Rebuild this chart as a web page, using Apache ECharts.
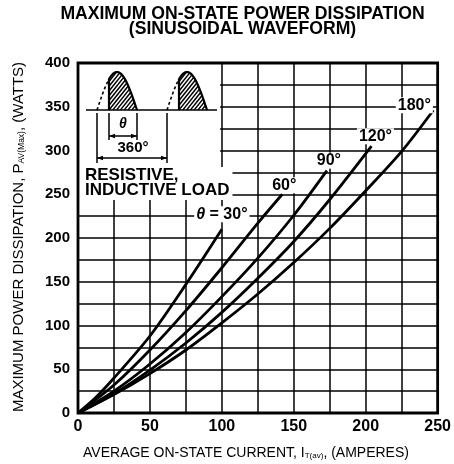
<!DOCTYPE html>
<html><head><meta charset="utf-8">
<script src="https://cdn.jsdelivr.net/npm/echarts/dist/echarts.min.js"></script>
<style>html,body{margin:0;padding:0;background:#fff}#c{width:454px;height:464px}</style>
</head><body><div id="c"></div>
<script>
// ---- data ----
const xTickValues = [0, 50, 100, 150, 200, 250];
const yTickValues = [0, 50, 100, 150, 200, 250, 300, 350, 400];
const curveNames = ['30°', '60°', '90°', '120°', '180°'];
const curve30  = [[0,0],[12.5,18],[25,40],[50,88],[75,147],[100,210]];
const curve60  = [[0,0],[25,32],[50,72],[75,117],[100,166],[125,217],[142,250]];
const curve90  = [[0,0],[25,25],[50,56],[75,92],[100,133],[125,177],[150,226],[173,277]];
const curve120 = [[0,0],[25,22],[50,49],[75,80],[100,115],[125,154],[150,196],[175,244],[204,305]];
const curve180 = [[0,0],[25,21],[50,45],[75,72],[100,103],[125,136],[150,172],[175,211],[200,254],[225,299],[247,346]];
const titleLines = ['MAXIMUM ON-STATE POWER DISSIPATION', '(SINUSOIDAL WAVEFORM)'];
const loadText = ['RESISTIVE,', 'INDUCTIVE LOAD'];

// ---- chart ----
const FF = '"Liberation Sans", Arial, Helvetica, sans-serif';
const chart = echarts.init(document.getElementById('c'), null, {renderer: 'canvas', width: 454, height: 464});
const curves = [curve30, curve60, curve90, curve120, curve180];
const labelShift = [[0,-15],[2,-9],[2,-10],[4,-10],[-19,-5]];

const series = curves.map((pts, i) => ({
  type: 'line', data: pts, smooth: 0.3, showSymbol: false, symbol: 'none', silent: true,
  animation: false, z: 3,
  lineStyle: {color: '#000', width: 2.8},
  markPoint: {
    symbol: 'circle', symbolSize: 0.1, silent: true, animation: false,
    itemStyle: {color: 'rgba(0,0,0,0)'},
    data: [{coord: pts[pts.length - 1]}],
    label: {
      show: true, position: 'inside', offset: labelShift[i],
      formatter: () => i === 0 ? '{i|θ} = ' + curveNames[i] : curveNames[i],
      color: '#000', fontFamily: FF, fontWeight: 'bold', fontSize: 16,
      backgroundColor: '#fff', padding: [0, 2],
      rich: {i: {fontStyle: 'italic', fontWeight: 'bold', fontSize: 16, fontFamily: FF, color: '#000'}}
    }
  }
}));

const axisCommon = {
  splitLine: {show: true, lineStyle: {color: '#000', width: 1.5}},
  axisLine: {show: false}, axisTick: {show: false}
};

chart.setOption({
  animation: false,
  backgroundColor: '#fff',
  grid: {left: 78, top: 63, right: 16, bottom: 51, show: false},
  xAxis: Object.assign({
    type: 'value', min: 0, max: 250, interval: 25,
    axisLabel: {formatter: v => xTickValues.includes(v) ? String(v) : '', color: '#000',
      fontFamily: FF, fontWeight: 'bold', fontSize: 16, margin: 6, showMaxLabel: true}
  }, axisCommon),
  yAxis: Object.assign({
    type: 'value', min: 0, max: 400, interval: 25,
    axisLabel: {formatter: v => yTickValues.includes(v) ? String(v) : '', color: '#000',
      fontFamily: FF, fontWeight: 'bold', fontSize: 15, margin: 8}
  }, axisCommon),
  series: series
});

// ---- overlays: mask, frame, texts, inset ----
const px = (x, y) => chart.convertToPixel({gridIndex: 0}, [x, y]);
const g = [];
const topLeft = px(0, 400), botRight = px(250, 0);
const maskBR = px(98.8, 245);
g.push({type: 'rect', z: 10, shape: {x: topLeft[0] + 1, y: topLeft[1] + 1, width: maskBR[0] - topLeft[0] - 1, height: maskBR[1] - topLeft[1] - 1},
  style: {fill: '#fff', stroke: null}});
g.push({type: 'rect', z: 60, shape: {x: topLeft[0], y: topLeft[1], width: botRight[0] - topLeft[0], height: botRight[1] - topLeft[1]},
  style: {fill: null, stroke: '#000', lineWidth: 2.8}});

// title
g.push({type: 'text', z: 60, style: {text: titleLines.join('\n'), x: 242.5, y: 7, align: 'center', verticalAlign: 'top',
  font: 'bold 17.6px ' + FF, fill: '#000', lineHeight: 15}});

// axis names
g.push({type: 'text', z: 60, style: {
  text: 'AVERAGE ON-STATE CURRENT, I{s|T(av)}, (AMPERES)', x: 246, y: 453, align: 'center', verticalAlign: 'middle',
  font: '14px ' + FF, fill: '#000',
  rich: {s: {fontSize: 8, fontFamily: FF, fill: '#000', padding: [6, 0, 0, 0]}}}});
g.push({type: 'text', z: 60, rotation: Math.PI / 2, x: 19, y: 237, style: {
  text: 'MAXIMUM POWER DISSIPATION, P{s|AV(Max)}, (WATTS)', x: 0, y: 0, align: 'center', verticalAlign: 'middle',
  font: '15px ' + FF, fill: '#000',
  rich: {s: {fontSize: 8.5, fontFamily: FF, fill: '#000', padding: [6, 0, 0, 0]}}}});

// load text
g.push({type: 'text', z: 30, style: {text: loadText.join('\n'), x: 85, y: 167, align: 'left', verticalAlign: 'top',
  font: 'bold 17px ' + FF, fill: '#000', lineHeight: 15, backgroundColor: '#fff', padding: [1, 3, 2, 0]}});

// inset waveform
const BASE = 110, W = 40, H = 38, CUT = 12, S = 1.25;
const humpY = (x, x0) => BASE - H * Math.sin(Math.PI * (x - x0) / W);
const starts = [97, 167];
g.push({type: 'line', z: 20, shape: {x1: 86, y1: BASE, x2: 217, y2: BASE}, style: {stroke: '#000', lineWidth: 1.7}});
starts.forEach(x0 => {
  const xc = x0 + CUT, xe = x0 + W;
  const dash = [];
  for (let x = x0; x <= xc + 0.01; x += 0.5) dash.push([x, humpY(x, x0)]);
  g.push({type: 'polyline', z: 20, shape: {points: dash}, style: {stroke: '#000', lineWidth: 1.6, lineDash: [3, 2.5], fill: null}});
  const solid = [[xc, BASE]];
  for (let x = xc; x <= xe + 0.01; x += 0.5) solid.push([x, humpY(x, x0)]);
  g.push({type: 'polyline', z: 20, shape: {points: solid}, style: {stroke: '#000', lineWidth: 2.2, fill: null}});
  for (let k = xc - H / S; k < xe; k += 3.8) {
    let first = null, last = null;
    for (let x = xc; x <= xe; x += 0.1) {
      const y = BASE - S * (x - k);
      if (y <= BASE && y >= humpY(x, x0)) { if (!first) first = [x, y]; last = [x, y]; }
    }
    if (first && last && last[0] - first[0] > 0.8)
      g.push({type: 'line', z: 20, shape: {x1: first[0], y1: first[1], x2: last[0], y2: last[1]}, style: {stroke: '#000', lineWidth: 1.5}});
  }
});
function dim(xa, xb, yLine, yExtEnd, label, lx, ly, font) {
  g.push({type: 'line', z: 20, shape: {x1: xa, y1: BASE + 3, x2: xa, y2: yExtEnd}, style: {stroke: '#000', lineWidth: 1.5}});
  g.push({type: 'line', z: 20, shape: {x1: xb, y1: BASE + 3, x2: xb, y2: yExtEnd}, style: {stroke: '#000', lineWidth: 1.5}});
  g.push({type: 'line', z: 20, shape: {x1: xa, y1: yLine, x2: xb, y2: yLine}, style: {stroke: '#000', lineWidth: 1.5}});
  g.push({type: 'polygon', z: 20, shape: {points: [[xa, yLine], [xa + 6, yLine - 2.2], [xa + 6, yLine + 2.2]]}, style: {fill: '#000'}});
  g.push({type: 'polygon', z: 20, shape: {points: [[xb, yLine], [xb - 6, yLine - 2.2], [xb - 6, yLine + 2.2]]}, style: {fill: '#000'}});
  g.push({type: 'text', z: 20, style: {text: label, x: lx, y: ly, align: 'center', verticalAlign: 'middle', font: font, fill: '#000'}});
}
dim(starts[0] + CUT, starts[0] + W, 136, 140, 'θ', 123, 124, 'italic bold 14px ' + FF);
dim(starts[0], starts[1], 158, 163, '360°', 133, 148, 'bold 15px ' + FF);

chart.setOption({graphic: g});
</script>
</body></html>
